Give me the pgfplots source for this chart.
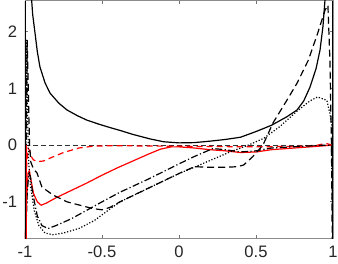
\documentclass[border=0pt]{standalone}
\usepackage{pgfplots}
\pgfplotsset{compat=1.18}
\usepackage{fontspec}
\setmainfont{Liberation Sans}
\begin{document}
\fontsize{8.3}{10}\selectfont
\begin{tikzpicture}
\begin{axis}[name=ax,
  scale only axis, width=154pt, height=118.9pt,
  xmin=-1, xmax=1, ymin=-1.645, ymax=2.55,
  xtick={-1,-0.5,0,0.5,1}, ytick={-1,0,1,2},
  xticklabels={-1,-0.5,0,0.5,1}, yticklabels={-1,0,1,2},
  tick align=inside, tick pos=both, major tick length=1.6pt,
  axis line style={black!45, line width=0.4pt},
  tick style={black!55, line width=0.4pt},
  every tick label/.append style={font=\fontsize{8.3}{10}\selectfont, text=black!85},
  yticklabel style={xshift=-1pt},
  xticklabel style={yshift=-1pt},
  clip=true,
  /pgf/number format/assume math mode=true,
  every axis plot/.append style={line width=0.6pt, line join=round},
]
% zero line
\addplot[black!80, line width=0.3pt, dash pattern=on 2.5pt off 1.5pt] coordinates {(-1,0) (1,0)};
% red dashed
\addplot[red, dash pattern=on 3pt off 2pt] coordinates {
(-0.997,-1.65) (-0.99,-0.4) (-0.98,-0.05) (-0.97,-0.1) (-0.96,-0.2) (-0.945,-0.26) (-0.92,-0.29) (-0.88,-0.28) (-0.83,-0.22) (-0.75,-0.13) (-0.65,-0.05) (-0.55,-0.015) (-0.4,-0.01) (0,-0.02) (0.5,-0.03) (0.8,-0.02) (0.9,0.0) (0.95,0.03) (0.97,0.02) (0.99,0.0) (1.0,-0.05)};
% red solid
\addplot[red] coordinates {
(-0.998,-1.65) (-0.99,-1.0) (-0.98,-0.5) (-0.972,-0.45) (-0.962,-0.6) (-0.945,-0.85) (-0.92,-1.0) (-0.895,-1.06) (-0.86,-1.02) (-0.8,-0.93) (-0.7,-0.8) (-0.6,-0.67) (-0.5,-0.53) (-0.4,-0.4) (-0.3,-0.28) (-0.2,-0.16) (-0.12,-0.07) (-0.05,-0.03) (0,-0.03) (0.1,-0.05) (0.2,-0.08) (0.3,-0.1) (0.4,-0.13) (0.5,-0.12) (0.6,-0.08) (0.7,-0.06) (0.8,-0.04) (0.9,-0.02) (0.95,-0.01) (0.99,0) (1.0,-0.05)};
% solid black
\addplot[black] coordinates {
(-0.958,2.6) (-0.95,2.3) (-0.935,1.98) (-0.92,1.65) (-0.903,1.38) (-0.87,1.1) (-0.838,0.92) (-0.78,0.74) (-0.727,0.62) (-0.66,0.52) (-0.597,0.44) (-0.52,0.37) (-0.448,0.31) (-0.383,0.26) (-0.3,0.19) (-0.188,0.11) (-0.1,0.06) (0.0,0.04) (0.1,0.045) (0.2,0.07) (0.3,0.1) (0.4,0.14) (0.5,0.24) (0.6,0.35) (0.7,0.5) (0.766,0.62) (0.81,0.78) (0.85,1.02) (0.89,1.35) (0.916,1.68) (0.935,2.1) (0.948,2.56) (0.952,2.6)};
% dashed black
\addplot[black, dash pattern=on 3.5pt off 2pt] coordinates {
(-0.995,-1.65) (-0.99,0.5) (-0.986,1.85) (-0.98,1.2) (-0.975,0.5) (-0.97,0) (-0.962,-0.3) (-0.945,-0.42) (-0.922,-0.49) (-0.89,-0.74) (-0.818,-0.88) (-0.727,-1.0) (-0.643,-1.06) (-0.558,-1.12) (-0.5,-1.14) (-0.45,-1.1) (-0.383,-1.0) (-0.2,-0.76) (0,-0.5) (0.1,-0.38) (0.2,-0.39) (0.3,-0.39) (0.38,-0.38) (0.42,-0.35) (0.48,-0.2) (0.545,0) (0.61,0.39) (0.70,0.79) (0.766,1.09) (0.84,1.5) (0.90,1.97) (0.948,2.38) (0.967,2.47) (0.98,1.5) (0.99,0) (0.995,-1.65)};
% dash-dot black
\addplot[black, dash pattern=on 3.5pt off 1.2pt on 0.6pt off 1.2pt] coordinates {
(-0.995,-1.65) (-0.985,-0.8) (-0.975,-0.5) (-0.965,-0.55) (-0.95,-0.85) (-0.92,-1.25) (-0.89,-1.42) (-0.85,-1.47) (-0.8,-1.42) (-0.7,-1.3) (-0.6,-1.15) (-0.5,-1.0) (-0.383,-0.83) (-0.2,-0.6) (0,-0.33) (0.1,-0.2) (0.22,-0.06) (0.3,-0.08) (0.4,-0.12) (0.5,-0.1) (0.6,-0.05) (0.8,-0.02) (0.95,0) (0.99,0) (1,-1.65)};
% dotted black
\addplot[black, dash pattern=on 0.6pt off 0.9pt] coordinates {
(-0.996,-1.65) (-0.99,1.85) (-0.984,0.6) (-0.976,-0.3) (-0.965,-0.7) (-0.94,-1.15) (-0.91,-1.42) (-0.87,-1.55) (-0.82,-1.58) (-0.75,-1.55) (-0.65,-1.47) (-0.55,-1.33) (-0.45,-1.13) (-0.383,-1.0) (0,-0.5) (0.09,-0.4) (0.331,-0.12) (0.45,0.0) (0.55,0.12) (0.656,0.33) (0.766,0.6) (0.85,0.78) (0.9,0.85) (0.96,0.79) (0.98,0.56) (0.994,0.32) (0.999,-1.65)};
% vertical edges
\addplot[red, line width=1pt] coordinates {(-0.996,0) (-0.996,-1.65)};
\addplot[black, line width=1pt] coordinates {(-1,-1.65) (-1,2.55)};
\addplot[black, line width=1pt] coordinates {(0.999,-1.65) (0.999,2.55)};
\end{axis}
\pgfresetboundingbox
\path (ax.south west) ++(-12.5pt,-12.35pt) coordinate (bl);
\path (ax.north east) ++(2.5pt,0.3pt) coordinate (tr);
\useasboundingbox (bl) rectangle (tr);
\end{tikzpicture}
\end{document}
